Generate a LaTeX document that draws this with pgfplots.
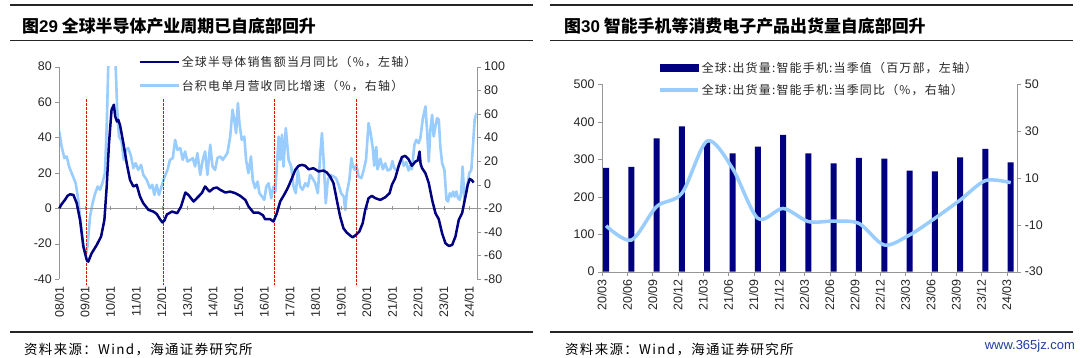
\documentclass[border=0pt]{standalone}
\usepackage{fontspec}
\setmainfont{Liberation Sans}
\newfontfamily\cjk{Noto Sans CJK SC}
\newfontfamily\cjkls[LetterSpace=10]{Noto Sans CJK SC}
\usepackage{pgfplots}
\pgfplotsset{compat=1.18}
\definecolor{navyc}{RGB}{0,0,128}
\definecolor{ltblue}{RGB}{153,204,255}
\definecolor{axgray}{RGB}{150,150,150}
\definecolor{wmblue}{RGB}{30,60,160}
\pgfplotsset{
  common/.style={scale only axis, anchor=south west,
    /pgf/number format/assume math mode=true,
    tick label style={font=\fontsize{12.5}{14}\selectfont, color=black!85},
    tick align=outside, major tick length=4bp,
    axis line style={axgray}, tick style={axgray}},
}
\begin{document}
\begin{tikzpicture}[x=1bp,y=1bp]
\path[fill=white] (0,0) rectangle (1080,357);
% rules
\draw[line width=1.6bp, black!85] (10,352) -- (533,352);
\draw[line width=1.6bp, black!85] (10,316.3) -- (533,316.3);
\draw[line width=1.6bp, black!85] (550,352) -- (1073,352);
\draw[line width=1.6bp, black!85] (550,316.3) -- (1073,316.3);
\draw[line width=1.6bp, black!85] (10,25.3) -- (533,25.3);
\draw[line width=1.6bp, black!85] (550,25.3) -- (1073,25.3);
% titles
\node[anchor=west, inner sep=0] at (22,331) {\cjk\bfseries\fontsize{17}{19}\selectfont 图{\rmfamily\bfseries 29} 全球半导体产业周期已自底部回升};
\node[anchor=west, inner sep=0] at (564,331) {\cjk\bfseries\fontsize{17}{19}\selectfont 图{\rmfamily\bfseries 30} 智能手机等消费电子产品出货量自底部回升};
% sources
\node[anchor=west, inner sep=0] at (24,7) {\cjkls\fontsize{13.5}{15}\selectfont 资料来源：Wind，海通证券研究所};
\node[anchor=west, inner sep=0] at (565,7) {\cjkls\fontsize{13.5}{15}\selectfont 资料来源：Wind，海通证券研究所};
\node[anchor=east, inner sep=0] at (1075,11) {\color{wmblue}\fontsize{13}{15}\selectfont www.365jz.com};

% ===== Left chart: right axis (TSMC) =====
\begin{axis}[common, at={(59.3bp,78bp)}, width=417.4bp, height=212.3bp,
  xmin=2008, xmax=2024.29, ymin=-80, ymax=100,
  axis y line*=right, axis x line*=bottom,
  x axis line style={draw=none}, xtick style={draw=none},
  ytick={-80,-60,...,100},
  xtick={2008,...,2024},
  xticklabels={08/01,09/01,10/01,11/01,12/01,13/01,14/01,15/01,16/01,17/01,18/01,19/01,20/01,21/01,22/01,23/01,24/01},
  xticklabel style={rotate=90, anchor=east}]
\addplot[ltblue, line width=2.6bp, line join=round] table {
x y
2008.00 45.1
2008.09 32.4
2008.20 22.5
2008.29 23.9
2008.38 15.4
2008.51 8.3
2008.64 1.2
2008.74 -12.9
2008.85 -35.6
2008.94 -52.5
2009.03 -60
2009.10 -52.5
2009.20 -27
2009.30 -15.7
2009.40 -7.3
2009.50 -1.6
2009.59 -4.4
2009.68 1.2
2009.78 9.7
2009.85 49
2009.91 100
2010.00 140
2010.10 150
2010.20 100
2010.26 63.5
2010.33 40.8
2010.43 36.6
2010.52 21
2010.60 29.5
2010.69 31
2010.80 23.9
2010.89 14
2010.98 18.2
2011.08 12.5
2011.19 16.8
2011.28 8.3
2011.41 4.1
2011.54 -3
2011.63 -0.2
2011.71 -8.7
2011.80 -0.2
2011.89 -8.7
2011.99 -1.6
2012.09 5.5
2012.22 12.5
2012.32 21
2012.43 22.5
2012.52 38
2012.61 29.5
2012.72 31
2012.82 21
2012.91 28.1
2013.00 19.6
2013.11 21
2013.21 22.5
2013.30 15.4
2013.39 26.7
2013.50 8.3
2013.60 21
2013.69 28.1
2013.78 8.3
2013.89 33.8
2013.98 15.4
2014.08 12.5
2014.17 22.5
2014.28 23.9
2014.38 21
2014.47 23.9
2014.56 26.7
2014.67 40.8
2014.76 63.5
2014.82 56.4
2014.90 43.7
2014.97 69.1
2015.03 52.2
2015.12 38
2015.22 40.8
2015.29 21
2015.38 9.7
2015.48 23.9
2015.55 4.1
2015.64 -3
2015.74 2.6
2015.81 -7.3
2015.91 -10.1
2016.00 -12.9
2016.08 -1.6
2016.17 1.2
2016.27 -11.5
2016.36 -1.6
2016.43 -5.9
2016.56 40.8
2016.62 21
2016.69 42.3
2016.75 15.4
2016.84 47.9
2016.95 21
2017.05 15.4
2017.14 -1.6
2017.23 -7.3
2017.31 12.5
2017.40 -1.6
2017.49 -4.4
2017.60 1.2
2017.70 -1.6
2017.79 8.3
2017.88 5.5
2017.99 1.2
2018.09 -7.3
2018.18 23.9
2018.25 43.7
2018.31 22.5
2018.40 -15.8
2018.48 4.1
2018.57 8.3
2018.70 7
2018.80 5.5
2018.90 -0.2
2019.00 -7.3
2019.10 -10.1
2019.16 -21.4
2019.22 -7.3
2019.32 4.1
2019.40 22.5
2019.46 15.4
2019.53 12.5
2019.59 16.8
2019.68 7
2019.79 5.5
2019.88 12.5
2019.97 21
2020.07 52.2
2020.14 45
2020.24 30
2020.29 16
2020.37 32
2020.42 13
2020.53 22
2020.63 13
2020.72 18
2020.81 12
2020.92 13
2021.00 20
2021.07 14
2021.18 12
2021.28 19
2021.37 22
2021.44 16
2021.54 19
2021.63 12
2021.70 16
2021.76 13
2021.86 33.8
2021.93 38
2022.02 35.2
2022.09 39.4
2022.19 56.4
2022.29 66.3
2022.35 46.5
2022.42 19.6
2022.48 46.5
2022.55 59.2
2022.61 40.8
2022.68 49.3
2022.74 56.4
2022.81 55
2022.87 32.4
2022.94 18.2
2023.03 12.5
2023.11 -12.9
2023.17 -14.3
2023.24 -7.3
2023.30 -10.1
2023.37 -5.9
2023.43 -10.1
2023.50 -5.9
2023.56 -11.5
2023.63 -12.9
2023.68 -7.3
2023.74 15.4
2023.81 -12.9
2023.87 -7.3
2023.94 1.2
2024.00 9.7
2024.08 12.5
2024.15 35.2
2024.21 55
2024.28 60.7
};
\end{axis}

% ===== Left chart: left axis (semiconductor sales) =====
\begin{axis}[common, at={(59.3bp,78bp)}, width=417.4bp, height=212.3bp,
  xmin=2008, xmax=2024.29, ymin=-40, ymax=80,
  axis y line*=left, axis x line=middle, axis line style={-},
  xtick={2008,...,2024}, xticklabels={},
  ytick={-40,-20,...,80}, clip=false,
  legend style={at={(0.1886,1.06)}, anchor=north west, draw=none, fill=none,
    font=\cjkls\fontsize{12}{14}\selectfont, text=black!85, row sep=8bp, inner sep=0pt},
  legend cell align=left,
  legend image code/.code={\draw[#1] (0bp,0bp) -- (39bp,0bp);}]
\addplot[red, line width=0.8bp, dash pattern=on 2.5bp off 1.5bp, forget plot] coordinates {(2009.07,61.5) (2009.07,-43.5)};
\addplot[red, line width=0.8bp, dash pattern=on 2.5bp off 1.5bp, forget plot] coordinates {(2012.06,61.5) (2012.06,-43.5)};
\addplot[red, line width=0.8bp, dash pattern=on 2.5bp off 1.5bp, forget plot] coordinates {(2016.39,61.5) (2016.39,-43.5)};
\addplot[red, line width=0.8bp, dash pattern=on 2.5bp off 1.5bp, forget plot] coordinates {(2019.60,61.5) (2019.60,-43.5)};
\addplot[navyc, line width=2.5bp, line join=round] table {
x y
2008.00 0
2008.10 2.5
2008.22 4.7
2008.32 7
2008.42 7.9
2008.55 7.5
2008.68 2.8
2008.81 -6.6
2008.94 -21.7
2009.07 -29.2
2009.13 -30.2
2009.26 -25.5
2009.46 -20.8
2009.63 -16
2009.76 -6.6
2009.85 12.3
2009.94 36.8
2010.04 55.7
2010.13 58.5
2010.18 52
2010.25 49
2010.30 50
2010.37 47
2010.50 36.8
2010.63 25.5
2010.76 16
2010.89 12.3
2011.02 13.2
2011.15 6.6
2011.28 2.8
2011.48 -0.9
2011.67 -1.9
2011.80 -3.2
2011.93 -6.2
2012.02 -8
2012.10 -7
2012.20 -3.5
2012.40 -1.9
2012.60 -2.8
2012.75 0.9
2012.92 8.9
2013.04 7.5
2013.24 3.8
2013.43 6.6
2013.56 8.5
2013.69 12.3
2013.86 9.4
2014.02 11.3
2014.15 11.7
2014.28 10.4
2014.48 8.9
2014.67 9.4
2014.87 8.5
2015.06 7
2015.26 4.7
2015.39 0.9
2015.58 -2.5
2015.78 -2.5
2015.95 -4
2016.03 -6.2
2016.23 -6.2
2016.36 -7.5
2016.49 -2.8
2016.62 3.8
2016.75 7
2016.88 10.4
2016.97 13.2
2017.08 17
2017.21 21.7
2017.34 24
2017.47 24.5
2017.60 24
2017.73 22
2017.92 22.6
2018.12 20.8
2018.31 21.3
2018.44 20.2
2018.57 17.9
2018.70 14.2
2018.83 4.7
2018.96 -4.7
2019.09 -11.3
2019.22 -13.8
2019.36 -15.5
2019.45 -16.4
2019.58 -15.1
2019.71 -13.2
2019.84 -8.5
2019.94 -0.9
2020.07 5.7
2020.20 7
2020.33 5.7
2020.53 4.7
2020.72 6.2
2020.89 8.5
2020.98 13.2
2021.11 17
2021.24 23.6
2021.37 28.9
2021.50 29.6
2021.63 27.7
2021.76 24
2021.90 26.4
2021.99 27
2022.06 32
2022.10 25
2022.16 22.6
2022.29 19.8
2022.42 14.2
2022.55 4.7
2022.68 -2.8
2022.81 -6.2
2022.94 -14.2
2023.07 -19.8
2023.20 -21.3
2023.33 -20.8
2023.46 -16
2023.59 -6.6
2023.72 -2.8
2023.85 6.6
2023.94 13.2
2024.02 16.6
2024.11 15.7
2024.17 14.5
};
\addlegendentry{全球半导体销售额当月同比（\%，左轴）}
\addlegendimage{ltblue, line width=2.6bp}
\addlegendentry{台积电单月营收同比增速（\%，右轴）}
\end{axis}

% ===== Right chart: bars (left axis) =====
\begin{axis}[common, at={(602bp,85.3bp)}, width=415.3bp, height=187.4bp,
  xmin=0, xmax=16.42, ymin=0, ymax=500,
  axis y line*=left, axis x line*=bottom,
  ytick={0,100,...,500},
  xtick={0,...,16},
  xticklabels={20/03,20/06,20/09,20/12,21/03,21/06,21/09,21/12,22/03,22/06,22/09,22/12,23/03,23/06,23/09,23/12,24/03},
  xticklabel style={rotate=90, anchor=east}]
\addplot[ybar, bar width=6bp, fill=navyc, draw=none] coordinates {
(0.16,277) (1.16,280) (2.16,356) (3.16,388) (4.16,345) (5.16,316) (6.16,334) (7.16,365) (8.16,316) (9.16,289) (10.16,304) (11.16,302) (12.16,270) (13.16,268) (14.16,305) (15.16,328) (16.16,292)};
\end{axis}

% ===== Right chart: line (right axis) =====
\begin{axis}[common, at={(602bp,85.3bp)}, width=415.3bp, height=187.4bp,
  xmin=0, xmax=16.42, ymin=-30, ymax=50,
  axis y line*=right, axis x line=none,
  ytick={-30,-10,...,50},
  legend style={at={(0.135,1.129)}, anchor=north west, draw=none, fill=none,
    font=\cjkls\fontsize{12}{14}\selectfont, text=black!85, row sep=6bp, inner sep=0pt},
  legend cell align=left,
  legend image code/.code={\draw[#1] (0bp,0bp) -- (38bp,0bp);}]
\addlegendimage{legend image code/.code={\fill[navyc] (0bp,-3.5bp) rectangle (38bp,3.5bp);}}
\addlegendentry{全球:出货量:智能手机:当季值（百万部，左轴）}
\addplot[ltblue, line width=3.5bp, smooth] coordinates {
(0.16,-10.4) (1.16,-16.5) (2.16,-2.2) (3.16,3.5) (4.16,25.8) (5.16,14.1) (6.16,-7.2) (7.16,-3) (8.16,-8.6) (9.16,-8.4) (10.16,-9.4) (11.16,-18.6) (12.16,-14.3) (13.16,-7.2) (14.16,0.6) (15.16,8.9) (16.16,8)};
\addlegendentry{全球:出货量:智能手机:当季同比（\%，右轴）}
\end{axis}
\end{tikzpicture}
\end{document}
